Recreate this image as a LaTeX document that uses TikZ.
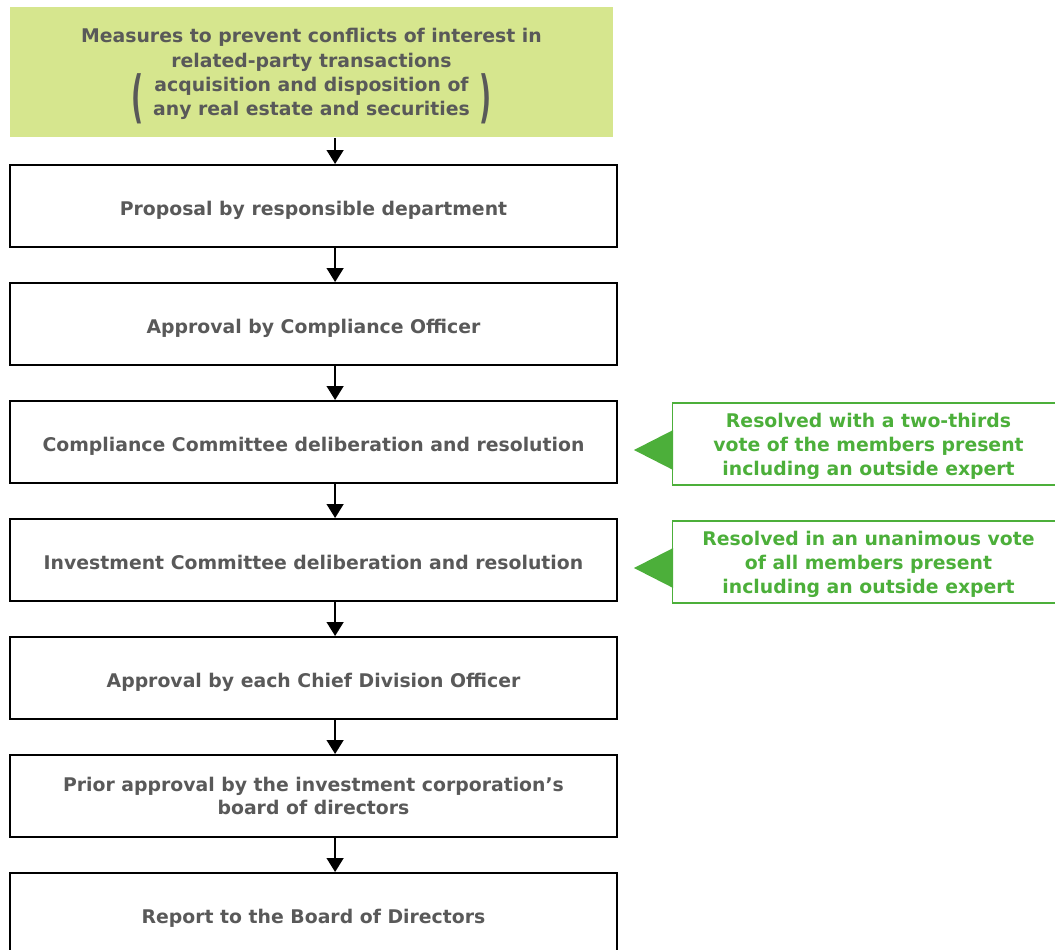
\documentclass[tikz,border=0pt]{standalone}
\usepackage{fontspec}
\setmainfont{DejaVu Sans}
\usetikzlibrary{positioning,arrows.meta}
\definecolor{measgreen}{RGB}{214,230,142}
\definecolor{notegreen}{RGB}{76,175,58}
\definecolor{textgray}{RGB}{89,89,89}
\newcommand{\tallparen}[1]{\raisebox{-0.7pt}{\scalebox{1.4}[3]{#1}}}
\tikzset{
  stepbox/.style={draw, rectangle, minimum width=15.175cm, minimum height=2.05cm, align=center, text=textgray, font=\bfseries\fontsize{13.4}{17}\selectfont},
  oneline/.style={text height=16pt, text depth=3.2pt},
  notebox/.style={draw=notegreen, line width=0.8pt, rectangle, minimum width=9.8cm, minimum height=2.05cm, align=center, text depth=0pt, text=notegreen, font=\bfseries\fontsize{13.4}{17}\selectfont}
}
\begin{document}
\begin{tikzpicture}[node distance=2.95cm,>={Triangle[width=0.42cm,length=0.35cm]},line width=1.4pt]
        \useasboundingbox (0,0) rectangle (26.375,-23.75);
        \node (meas) [fill=measgreen, rectangle, minimum width=15.075cm, minimum height=3.25cm, align=center, text depth=0pt, text=textgray, font=\bfseries\fontsize{13.4}{17.2}\selectfont] at (7.7875,-1.8) {Measures to prevent conflicts of interest in\\related-party transactions\\acquisition and disposition of\\\smash{\llap{\tallparen{(}\hspace{7pt}}}any real estate and securities\smash{\rlap{\hspace{7pt}\tallparen{)}}}};
        \node (prop) [stepbox, oneline, below of=meas, yshift=-0.4cm, xshift=0.05cm] {Proposal by responsible department};
        \node (appr) [stepbox, oneline, below of=prop] {Approval by Compliance Officer};
        \node (comp) [stepbox, oneline, below of=appr] {Compliance Committee deliberation and resolution};
        \node (inv) [stepbox, oneline, below of=comp] {Investment Committee deliberation and resolution};
        \node (chief) [stepbox, oneline, below of=inv] {Approval by each Chief Division Officer};
        \node (prior) [stepbox, below of=chief] {Prior approval by the investment corporation’s\\board of directors};
        \node (rep) [stepbox, oneline, below of=prior] {Report to the Board of Directors};

        \node (vote1) [notebox, right=1.35cm of comp, yshift=-0.05cm] {Resolved with a two-thirds\\vote of the members present\\including an outside expert};
        \node (vote2) [notebox, right=1.35cm of inv, yshift=-0.05cm] {Resolved in an unanimous vote\\of all members present\\including an outside expert};

        \foreach \a/\b in {meas/prop, prop/appr, appr/comp, comp/inv, inv/chief, chief/prior, prior/rep}
            \draw[->] ([xshift=0.54cm]\b.north |- \a.south) -- ([xshift=0.54cm]\b.north);

        \foreach \v in {vote1, vote2}
            \fill[notegreen] ([xshift=0.03cm,yshift=0.35cm]\v.west) -- ([xshift=-0.95cm,yshift=-0.15cm]\v.west) -- ([xshift=0.03cm,yshift=-0.65cm]\v.west) -- cycle;
    \end{tikzpicture}
\end{document}
